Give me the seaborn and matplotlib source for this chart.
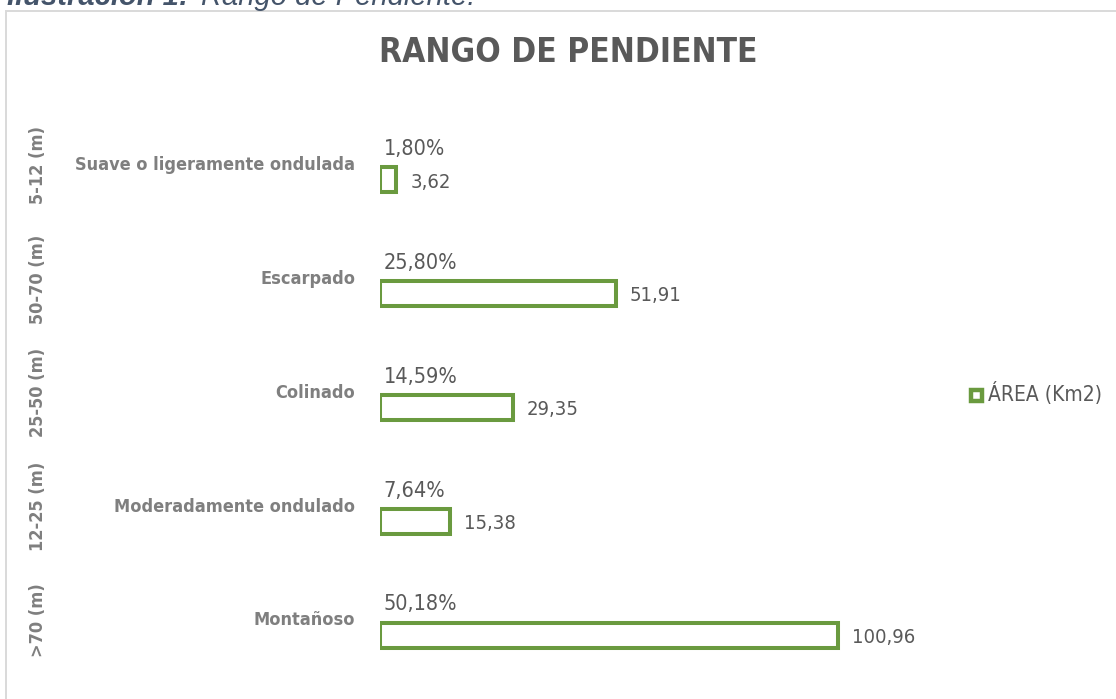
import numpy as np
import pandas as pd
import matplotlib
matplotlib.use("Agg")
import matplotlib.pyplot as plt
from matplotlib import font_manager
from matplotlib.patches import Patch, Rectangle
import seaborn as sns

# data
rangos = ['5-12 (m)', '50-70 (m)', '25-50 (m)', '12-25 (m)', '>70 (m)']
tipos = ['Suave o ligeramente ondulada', 'Escarpado', 'Colinado',
         'Moderadamente ondulado', 'Montañoso']
area_km2 = [3.62, 51.91, 29.35, 15.38, 100.96]
porcentaje = [1.80, 25.80, 14.59, 7.64, 50.18]

df = pd.DataFrame({'rango': rangos, 'tipo': tipos,
                   'area': area_km2, 'pct': porcentaje})

verde = '#6a9a3f'
gris = '#7f7f7f'
gris_osc = '#595959'

# the reference uses a narrow face; take a condensed one if there is one
paths = [f.fname for f in font_manager.fontManager.ttflist]
condensed = [p for p in paths if 'DejaVuSansCondensed.ttf' in p]
condensed_b = [p for p in paths if 'DejaVuSansCondensed-Bold.ttf' in p]
if condensed and condensed_b:
    fp = font_manager.FontProperties(fname=condensed[0])
    fpb = font_manager.FontProperties(fname=condensed_b[0])
    k = 1.0
else:
    fp = font_manager.FontProperties(family='Liberation Sans')
    fpb = font_manager.FontProperties(family='Liberation Sans', weight='bold')
    k = 0.92

sns.set_style('white')
plt.rcParams['font.family'] = ['Liberation Sans', 'DejaVu Sans']

W, H = 1116, 699
fig = plt.figure(figsize=(W / 100, H / 100), dpi=100)

# axes placed in pixel terms to line up with the reference
x0, x1 = 380, 900
ytop, ybot = 123.1, 691.9
ax = fig.add_axes([x0 / W, 1 - ybot / H, (x1 - x0) / W, (ybot - ytop) / H])

sns.barplot(data=df, x='area', y='tipo', orient='h', ax=ax, width=0.22,
            color='white', edgecolor=verde, linewidth=2.9, saturation=1)
ax.set_xlim(0, (x1 - x0) / 4.537)
ax.set_ylim(4.5, -0.5)
ax.set_xticks([])
ax.set_yticks([])
ax.set_xlabel('')
ax.set_ylabel('')
sns.despine(ax=ax, left=True, bottom=True)

def coma(v, fmt):
    return format(v, fmt).replace('.', ',')

for i, row in df.iterrows():
    # value at bar end
    ax.annotate(coma(row['area'], '.2f'), xy=(row['area'], i),
                xytext=(10, -1.5), textcoords='offset points',
                ha='left', va='center', fontproperties=fp,
                fontsize=14.5 * k, color=gris_osc)
    # share above bar
    ax.annotate(coma(row['pct'], '.2f') + '%', xy=(0, i),
                xytext=(2.5, 22), textcoords='offset points',
                ha='left', va='center', fontproperties=fp,
                fontsize=15.5 * k, color=gris_osc)
    # category name
    ax.annotate(row['tipo'], xy=(0, i), xytext=(-18, 10.5),
                textcoords='offset points', ha='right', va='center',
                fontproperties=fpb, fontsize=13 * k, color=gris)
    # range (outer level)
    ax.annotate(row['rango'], xy=(0, i), xytext=(-246.5, 10.5),
                textcoords='offset points', ha='center', va='center',
                rotation=90, fontproperties=fpb, fontsize=13 * k,
                color=gris)

fig.text(568 / W, 1 - 52 / H, 'RANGO DE PENDIENTE', ha='center',
         va='center', fontproperties=fpb, fontsize=24 * k, color=gris_osc)

handle = Patch(facecolor='white', edgecolor=verde, linewidth=3.2)
leg = fig.legend(handles=[handle], labels=['ÁREA (Km2)'], loc='center left',
                 bbox_to_anchor=(964 / W, 1 - 393 / H), frameon=False,
                 handlelength=0.8, handleheight=0.8, handletextpad=0.45,
                 borderpad=0, prop=fp, labelcolor=gris_osc)
for t in leg.get_texts():
    t.set_fontsize(15 * k)

# chart frame and clipped caption above it
fig.patches.append(Rectangle((6 / W, -0.05), 1.2, 1 - 10.5 / H + 0.05,
                             transform=fig.transFigure, fill=False,
                             edgecolor='#d9d9d9', linewidth=1.4))
fig.text(7 / W, 1 - 5 / H, 'Ilustración 1:', ha='left', va='baseline',
         fontsize=21, fontweight='bold', fontstyle='italic',
         color='#44546a', family=['Liberation Sans', 'DejaVu Sans'])
fig.text(201 / W, 1 - 5 / H, 'Rango de Pendiente.', ha='left',
         va='baseline', fontsize=21, fontstyle='italic', color='#44546a',
         family=['Liberation Sans', 'DejaVu Sans'])

fig.savefig('out.png', dpi=100)
